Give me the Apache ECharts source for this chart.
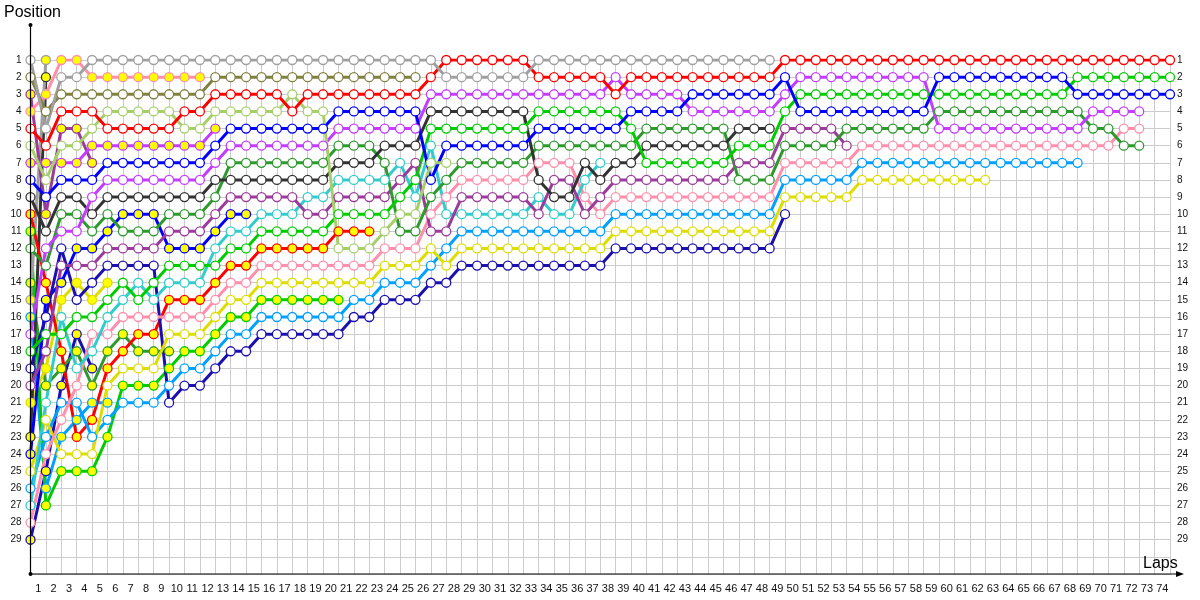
<!DOCTYPE html>
<html><head><meta charset="utf-8">
<script src="https://cdn.jsdelivr.net/npm/echarts@6/dist/echarts.min.js"></script>
<style>html,body{margin:0;padding:0;background:#fff}#c{width:1200px;height:600px}</style>
</head><body><div id="c"></div>
<script>
// lap labels 1..74 (category labels centred between lap grid lines)
const lapLabels = ['1','2','3','4','5','6','7','8','9','10','11','12','13','14','15','16','17','18','19','20','21','22','23','24','25','26','27','28','29','30','31','32','33','34','35','36','37','38','39','40','41','42','43','44','45','46','47','48','49','50','51','52','53','54','55','56','57','58','59','60','61','62','63','64','65','66','67','68','69','70','71','72','73','74'];

// positions per lap (index = lap, 0 = grid)
const gray    = [1,5,2,2,1,1,1,1,1,1,1,1,1,1,1,1,1,1,1,1,1,1,1,1,1,1,1,2,2,2,2,2,2,1,1,1,1,1,1,1,1,1,1,1,1,1,1,1,1];
const olive   = [2,4,3,3,3,3,3,3,3,3,3,3,2,2,2,2,2,2,2,2,2,2,2,2,2,2];
const red     = [5,6,4,4,4,5,5,5,5,5,4,4,3,3,3,3,3,4,3,3,3,3,3,3,3,3,2,1,1,1,1,1,1,2,2,2,2,2,3,2,2,2,2,2,2,2,2,2,2,1,1,1,1,1,1,1,1,1,1,1,1,1,1,1,1,1,1,1,1,1,1,1,1,1,1];
const lgreen  = [6,8,6,6,5,4,4,4,4,4,5,5,4,4,4,4,4,3,4,4,12,12,12,11,10,10,7,7];
const violetY = [7,7,7,7,6,6,6,6,6,6,6,6,5];
const blue    = [8,9,8,8,8,7,7,7,7,7,7,7,6,5,5,5,5,5,5,5,4,4,4,4,4,4,8,6,6,6,6,6,6,5,5,5,5,5,5,4,4,4,4,3,3,3,3,3,3,2,4,4,4,4,4,4,4,4,4,2,2,2,2,2,2,2,2,2,3,3,3,3,3,3,3];
const violet  = [17,12,11,11,9,8,8,8,8,8,8,8,7,6,6,6,6,6,6,6,5,5,5,5,5,5,3,3,3,3,3,3,3,3,3,3,3,3,2,3,3,3,3,4,4,4,4,4,4,3,2,2,2,2,2,2,2,2,2,5,5,5,5,5,5,5,5,5,5,4,4,4,4];
const dkgray  = [9,11,9,9,10,9,9,9,9,9,9,9,8,8,8,8,8,8,8,8,7,7,7,6,6,6,4,4,4,4,4,4,4,8,9,9,7,8,7,7,6,6,6,6,6,6,5,5,5];
const dkgreen = [12,13,10,10,11,10,11,11,11,10,10,10,9,7,7,7,7,7,7,7,6,6,6,7,11,11,9,8,7,7,7,7,7,6,6,6,6,6,6,6,5,5,5,5,5,5,8,8,8,6,6,6,6,5,5,5,5,5,5,4,4,4,4,4,4,4,4,4,4,5,5,6,6];
const purple  = [20,18,13,13,13,12,12,12,12,11,11,11,10,9,9,9,9,9,10,10,9,9,9,9,8,7,11,11,9,9,9,9,9,10,8,8,10,9,8,8,8,8,8,8,8,8,7,7,7,5,5,5,5,6];
const cyan    = [27,21,16,19,18,16,15,14,15,14,14,14,12,11,11,10,10,10,9,9,8,8,8,8,7,9,6,10,10,10,10,10,10,9,10,10,8,7];
const green   = [18,17,17,16,16,15,14,15,14,13,13,13,13,12,12,11,11,11,11,11,10,10,10,10,9,8,5,5,5,5,5,5,5,4,4,4,4,4,4,5,7,7,7,7,7,7,6,6,6,4,3,3,3,3,3,3,3,3,3,3,3,3,3,3,3,3,3,3,2,2,2,2,2,2,2];
const redY    = [10,14,18,23,22,19,18,17,17,15,15,15,14,13,13,12,12,12,12,12,11,11,11];
const pink    = [28,24,22,20,17,17,16,16,16,16,16,16,15,14,14,13,13,13,13,13,13,13,13,12,12,12,10,9,8,8,8,8,8,7,7,7,9,10,9,9,9,9,9,9,9,9,9,9,9,7,7,7,7,7,6,6,6,6,6,6,6,6,6,6,6,6,6,6,6,6,6,5,5];
const yellow  = [25,22,24,24,24,20,19,19,19,17,17,17,16,15,15,14,14,14,14,14,14,14,14,13,13,13,12,13,12,12,12,12,12,12,12,12,12,12,11,11,11,11,11,11,11,11,11,11,11,9,9,9,9,9,8,8,8,8,8,8,8,8,8];
const ltblue  = [26,23,21,21,23,22,21,21,21,20,19,19,18,17,17,16,16,16,16,16,16,15,15,14,14,14,13,12,11,11,11,11,11,11,11,11,11,11,10,10,10,10,10,10,10,10,10,10,10,8,8,8,8,8,7,7,7,7,7,7,7,7,7,7,7,7,7,7,7];
const navy    = [19,16,12,15,14,13,13,13,13,21,20,20,19,18,18,17,17,17,17,17,17,16,16,15,15,15,14,14,13,13,13,13,13,13,13,13,13,13,12,12,12,12,12,12,12,12,12,12,12,10];
const navyY   = [29,25,20,17,19];
const pinkY   = [4,3,1,1,2,2,2,2,2,2,2,2];
const purpleY = [3,10,5,5,7];
const blueY   = [24,15,14,12,12,11,10,10,10,12,12,12,11,10,10];
const grayY   = [15,1];
const blackY  = [23,2];
const yellowY = [21,19,15,14,15,14];
const greenY  = [11,27,25,25,25,23,20,20,20,19,18,18,17,16,16,15,15,15,15,15,15];
const dkgreenY= [14,20,19,18,20,18,17,18,18,18];
const ltblueY = [16,26,23,22,21,21];

// drivers: [positions, colour, laps drawn with yellow marker ('all' = every lap)]
const drivers = [
  [navyY,'#1a10b0','all'],[ltblueY,'#00a0ff','all'],[dkgreenY,'#2e9a2e','all'],[greenY,'#00cc00','all'],
  [yellowY,'#dddd00','all'],[blackY,'#333333','all'],[grayY,'#a0a0a0','all'],[blueY,'#0000ff','all'],
  [purpleY,'#9b3b9b','all'],[pinkY,'#ff8fab','all'],[redY,'#ff0000','all'],[violetY,'#c33cff','all'],
  [navy,'#1a10b0',[]],[ltblue,'#00a0ff',[]],[yellow,'#dddd00',[]],[pink,'#ff8fab',[]],
  [cyan,'#33cccc',[]],[purple,'#9b3b9b',[]],[dkgreen,'#2e9a2e',[]],[dkgray,'#333333',[]],
  [violet,'#c33cff',[]],[green,'#00cc00',[]],[blue,'#0000ff',[]],[lgreen,'#a6cf6a',[]],
  [red,'#ff0000',[]],[olive,'#808040',[]],[gray,'#a0a0a0',[]]
];

const series = drivers.map(([pos,color,yl]) => ({
  type:'line', xAxisIndex:0, yAxisIndex:0, symbol:'circle', symbolSize:9, showSymbol:true,
  silent:true, animation:false,
  lineStyle:{color:color,width:3},
  itemStyle:{color:'#ffffff',borderColor:color,borderWidth:1.3},
  data: pos.map((p,i)=> (yl==='all' || yl.indexOf(i)>=0) ? {value:[i,p],itemStyle:{color:'#ffff00'}} : [i,p])
}));

const chart = echarts.init(document.getElementById('c'), null, {renderer:'canvas'});
const labelFont = {fontFamily:'Liberation Sans, Arial, sans-serif', fontSize:10, color:'#111'};
chart.setOption({
  animation:false,
  grid:{left:30.5, right:30, top:60, bottom:26},
  xAxis:[
    {type:'value', min:0, max:74, interval:1, axisLine:{show:false}, axisTick:{show:false}, axisLabel:{show:false},
     splitLine:{show:true, lineStyle:{color:'#cccccc', width:1}}},
    {type:'category', data:lapLabels, position:'bottom', boundaryGap:true, axisLine:{show:false}, axisTick:{show:false},
     splitLine:{show:false}, axisLabel:{interval:0, margin:9, fontFamily:'Liberation Sans, Arial, sans-serif', fontSize:11, color:'#111'}}
  ],
  yAxis:[
    {type:'value', inverse:true, min:1, max:31, interval:1, position:'left', axisLine:{show:false}, axisTick:{show:false},
     axisLabel:Object.assign({margin:9, formatter:v=> v<=29 ? String(v) : ''}, labelFont),
     splitLine:{show:true, lineStyle:{color:'#cccccc', width:1}}},
    {type:'value', inverse:true, min:1, max:31, interval:1, position:'right', axisLine:{show:false}, axisTick:{show:false},
     axisLabel:Object.assign({margin:7, formatter:v=> v<=29 ? String(v) : ''}, labelFont),
     splitLine:{show:false}}
  ],
  series: series
});

// axis lines with end markers, placed from the grid corners
const p0 = chart.convertToPixel({xAxisIndex:0, yAxisIndex:0}, [0,31]);
const p1 = chart.convertToPixel({xAxisIndex:0, yAxisIndex:0}, [74,31]);
const x0 = p0[0], yb = p0[1], xr = p1[0] + 12;
chart.setOption({graphic:[
  {type:'line', shape:{x1:x0, y1:yb, x2:x0, y2:25}, style:{stroke:'#000', lineWidth:1.2}, z:100},
  {type:'circle', shape:{cx:x0, cy:25, r:2}, style:{fill:'#000'}, z:100},
  {type:'line', shape:{x1:x0, y1:yb, x2:xr, y2:yb}, style:{stroke:'#000', lineWidth:1.2}, z:100},
  {type:'circle', shape:{cx:x0, cy:yb, r:2}, style:{fill:'#000'}, z:100},
  {type:'polygon', shape:{points:[[xr-6,yb-3],[xr+2,yb],[xr-6,yb+3]]}, style:{fill:'#000'}, z:100},
  {type:'text', left:4, top:5, style:{text:'Position', fontFamily:'Liberation Sans, Arial, sans-serif', fontSize:16, fill:'#000'}},
  {type:'text', left:1143, top:556, style:{text:'Laps', fontFamily:'Liberation Sans, Arial, sans-serif', fontSize:16, fill:'#000'}}
]});
</script></body></html>
